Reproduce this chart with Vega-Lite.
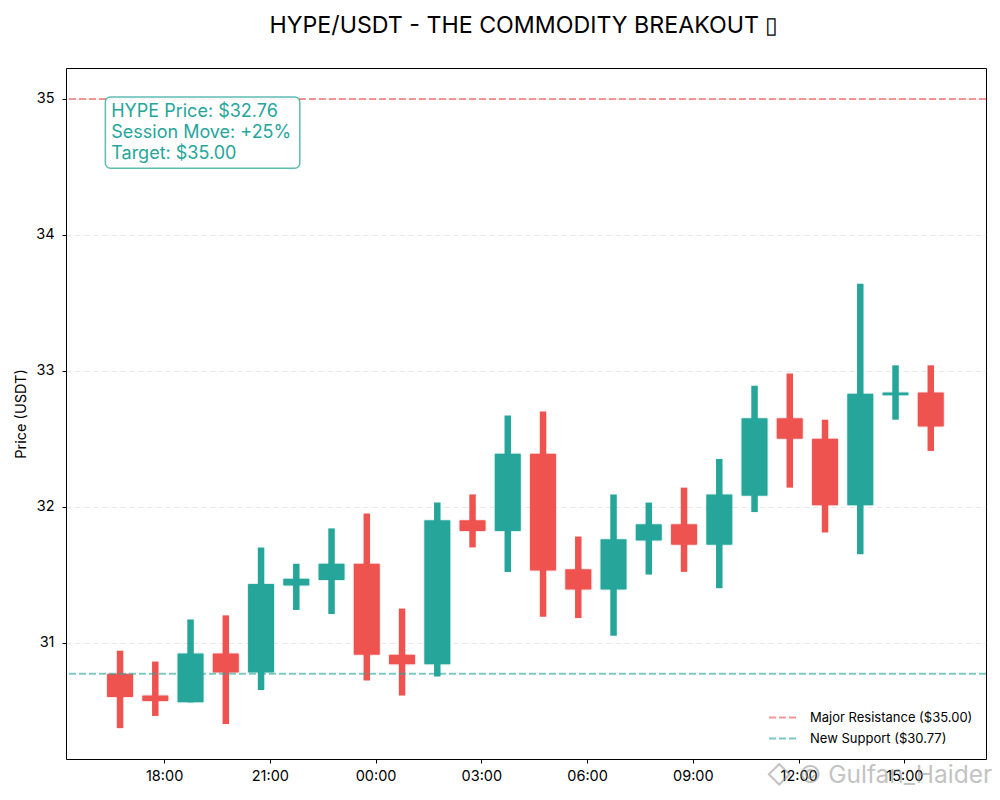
{
  "$schema": "https://vega.github.io/schema/vega-lite/v6.json",
  "width": 920,
  "height": 691,
  "autosize": "none",
  "padding": {"left": 66, "top": 68, "right": 14, "bottom": 41},
  "background": "white",
  "title": {
    "text": "HYPE/USDT - THE COMMODITY BREAKOUT ▯",
    "fontSize": 23.2,
    "fontWeight": "normal",
    "color": "black",
    "offset": 30,
    "dx": -2,
    "anchor": "middle"
  },
  "datasets": {
    "candles": [
      {"time": "2025-01-01T16:45:00", "open": 30.77, "high": 30.94, "low": 30.37, "close": 30.60},
      {"time": "2025-01-01T17:45:00", "open": 30.61, "high": 30.86, "low": 30.46, "close": 30.57},
      {"time": "2025-01-01T18:45:00", "open": 30.56, "high": 31.17, "low": 30.56, "close": 30.92},
      {"time": "2025-01-01T19:45:00", "open": 30.92, "high": 31.20, "low": 30.40, "close": 30.78},
      {"time": "2025-01-01T20:45:00", "open": 30.78, "high": 31.70, "low": 30.65, "close": 31.43},
      {"time": "2025-01-01T21:45:00", "open": 31.42, "high": 31.58, "low": 31.24, "close": 31.47},
      {"time": "2025-01-01T22:45:00", "open": 31.46, "high": 31.84, "low": 31.21, "close": 31.58},
      {"time": "2025-01-01T23:45:00", "open": 31.58, "high": 31.95, "low": 30.72, "close": 30.91},
      {"time": "2025-01-02T00:45:00", "open": 30.91, "high": 31.25, "low": 30.61, "close": 30.84},
      {"time": "2025-01-02T01:45:00", "open": 30.84, "high": 32.03, "low": 30.75, "close": 31.90},
      {"time": "2025-01-02T02:45:00", "open": 31.90, "high": 32.09, "low": 31.70, "close": 31.82},
      {"time": "2025-01-02T03:45:00", "open": 31.82, "high": 32.67, "low": 31.52, "close": 32.39},
      {"time": "2025-01-02T04:45:00", "open": 32.39, "high": 32.70, "low": 31.19, "close": 31.53},
      {"time": "2025-01-02T05:45:00", "open": 31.54, "high": 31.78, "low": 31.18, "close": 31.39},
      {"time": "2025-01-02T06:45:00", "open": 31.39, "high": 32.09, "low": 31.05, "close": 31.76},
      {"time": "2025-01-02T07:45:00", "open": 31.75, "high": 32.03, "low": 31.50, "close": 31.87},
      {"time": "2025-01-02T08:45:00", "open": 31.87, "high": 32.14, "low": 31.52, "close": 31.72},
      {"time": "2025-01-02T09:45:00", "open": 31.72, "high": 32.35, "low": 31.40, "close": 32.09},
      {"time": "2025-01-02T10:45:00", "open": 32.08, "high": 32.89, "low": 31.96, "close": 32.65},
      {"time": "2025-01-02T11:45:00", "open": 32.65, "high": 32.98, "low": 32.14, "close": 32.50},
      {"time": "2025-01-02T12:45:00", "open": 32.50, "high": 32.64, "low": 31.81, "close": 32.01},
      {"time": "2025-01-02T13:45:00", "open": 32.01, "high": 33.64, "low": 31.65, "close": 32.83},
      {"time": "2025-01-02T14:45:00", "open": 32.82, "high": 33.04, "low": 32.64, "close": 32.84},
      {"time": "2025-01-02T15:45:00", "open": 32.84, "high": 33.04, "low": 32.41, "close": 32.59}
    ],
    "levels": [
      {"level": "Major Resistance ($35.00)", "price": 35.0},
      {"level": "New Support ($30.77)", "price": 30.77}
    ],
    "box": [
      {"start": "2025-01-01T16:20:00", "end": "2025-01-01T21:51:00", "top": 35.015, "bottom": 34.49}
    ],
    "notes": [
      {"note": "HYPE Price: $32.76", "time": "2025-01-01T16:30:00", "price": 34.905},
      {"note": "Session Move: +25%", "time": "2025-01-01T16:30:00", "price": 34.75},
      {"note": "Target: $35.00", "time": "2025-01-01T16:30:00", "price": 34.595}
    ],
    "watermark": [
      {"note": "◇ © Gulfan_Haider", "time": "2025-01-02T11:05:00", "price": 30.02}
    ]
  },
  "layer": [
    {
      "data": {"name": "candles"},
      "transform": [{"calculate": "datum.close >= datum.open ? 'up' : 'down'", "as": "direction"}],
      "mark": {"type": "bar", "size": 6.5},
      "encoding": {
        "x": {
          "field": "time",
          "type": "temporal",
          "title": null,
          "scale": {
            "padding": 0,
            "domain": [
              {"year": 2025, "month": 1, "date": 1, "hours": 15, "minutes": 13},
              {"year": 2025, "month": 1, "date": 2, "hours": 17, "minutes": 19}
            ]
          },
          "axis": {
            "format": "%H:%M",
            "labelPadding": 6,
            "values": [
              {"year": 2025, "month": 1, "date": 1, "hours": 18},
              {"year": 2025, "month": 1, "date": 1, "hours": 21},
              {"year": 2025, "month": 1, "date": 2, "hours": 0},
              {"year": 2025, "month": 1, "date": 2, "hours": 3},
              {"year": 2025, "month": 1, "date": 2, "hours": 6},
              {"year": 2025, "month": 1, "date": 2, "hours": 9},
              {"year": 2025, "month": 1, "date": 2, "hours": 12},
              {"year": 2025, "month": 1, "date": 2, "hours": 15}
            ],
            "grid": false
          }
        },
        "y": {
          "field": "high",
          "type": "quantitative",
          "title": "Price (USDT)",
          "scale": {"domain": [30.143, 35.228], "nice": false, "zero": false},
          "axis": {"values": [31, 32, 33, 34, 35], "format": "d"}
        },
        "y2": {"field": "low"},
        "fill": {
          "field": "direction",
          "scale": {"domain": ["up", "down"], "range": ["#26a69a", "#ef5350"]},
          "legend": null
        }
      }
    },
    {
      "data": {"name": "candles"},
      "transform": [{"calculate": "datum.close >= datum.open ? 'up' : 'down'", "as": "direction"}],
      "mark": {"type": "bar", "size": 26, "strokeWidth": 2, "strokeOpacity": 0.15, "cornerRadius": 1},
      "encoding": {
        "x": {"field": "time", "type": "temporal"},
        "y": {"field": "open", "type": "quantitative"},
        "y2": {"field": "close"},
        "fill": {"field": "direction", "legend": null},
        "stroke": {
          "field": "direction",
          "scale": {"domain": ["up", "down"], "range": ["#26a69a", "#ef5350"]},
          "legend": null
        }
      }
    },
    {
      "data": {"name": "levels"},
      "mark": {"type": "rule", "strokeWidth": 2, "strokeDash": [7, 3], "opacity": 0.6},
      "encoding": {
        "y": {"field": "price", "type": "quantitative"},
        "color": {
          "field": "level",
          "scale": {
            "domain": ["Major Resistance ($35.00)", "New Support ($30.77)"],
            "range": ["#ef5350", "#26a69a"]
          },
          "legend": {
            "title": null,
            "orient": "bottom-right",
            "symbolType": "stroke",
            "symbolSize": 784,
            "symbolDash": [7, 3],
            "symbolStrokeWidth": 2,
            "clipHeight": 15,
            "labelFontSize": 13,
            "labelOffset": 12,
            "labelLimit": 300,
            "labelColor": "black",
            "rowPadding": 6,
            "offset": 13
          }
        }
      }
    },
    {
      "data": {"name": "box"},
      "mark": {
        "type": "rect",
        "fill": "white",
        "fillOpacity": 0.9,
        "stroke": "#26a69a",
        "strokeOpacity": 0.75,
        "strokeWidth": 1.5,
        "cornerRadius": 5
      },
      "encoding": {
        "x": {"field": "start", "type": "temporal"},
        "x2": {"field": "end"},
        "y": {"field": "top", "type": "quantitative"},
        "y2": {"field": "bottom"}
      }
    },
    {
      "data": {"name": "notes"},
      "mark": {"type": "text", "align": "left", "baseline": "middle", "fontSize": 18, "color": "#26a69a"},
      "encoding": {
        "x": {"field": "time", "type": "temporal"},
        "y": {"field": "price", "type": "quantitative"},
        "text": {"field": "note"}
      }
    },
    {
      "data": {"name": "watermark"},
      "mark": {"type": "text", "align": "left", "baseline": "middle", "fontSize": 24.5, "color": "#888888", "opacity": 0.5},
      "encoding": {
        "x": {"field": "time", "type": "temporal"},
        "y": {"field": "price", "type": "quantitative"},
        "text": {"field": "note"}
      }
    }
  ],
  "config": {
    "font": "Inter",
    "view": {"stroke": "black", "strokeWidth": 1},
    "axis": {
      "domain": false,
      "tickColor": "black",
      "tickSize": 4,
      "labelColor": "black",
      "labelFontSize": 14.5,
      "labelPadding": 8,
      "titleColor": "black",
      "titleFontSize": 14.5,
      "titleFontWeight": "normal"
    },
    "axisY": {
      "grid": true,
      "gridColor": "#bbbbbb",
      "gridOpacity": 0.35,
      "gridDash": [5, 4],
      "titlePadding": 7
    }
  }
}
